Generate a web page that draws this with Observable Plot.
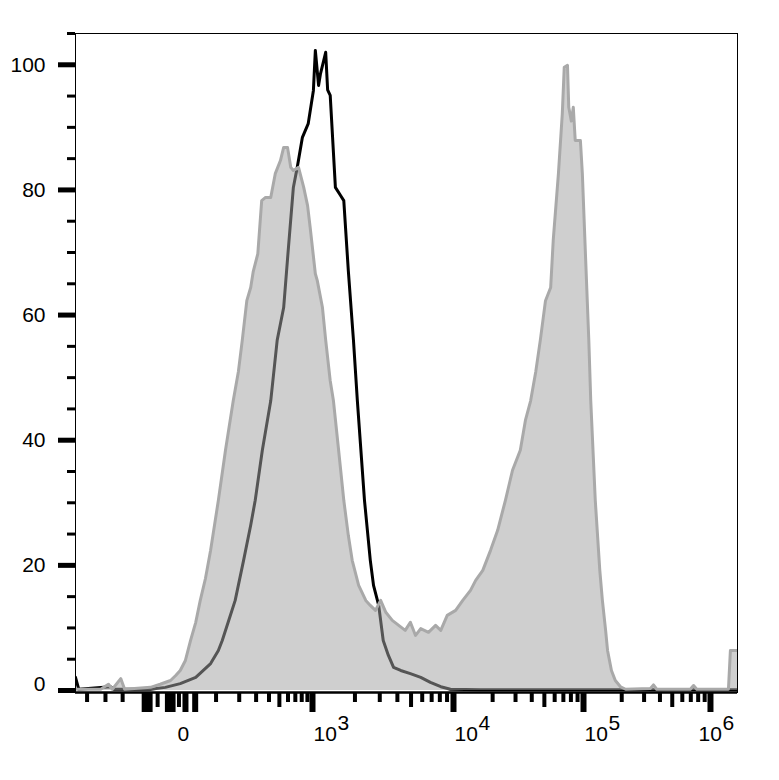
<!DOCTYPE html>
<html><head><meta charset="utf-8">
<script src="https://cdn.jsdelivr.net/npm/d3@7"></script>
<script src="https://cdn.jsdelivr.net/npm/@observablehq/plot@0.6"></script>
<style>body{margin:0;background:#fff;}</style>
</head><body><div id="chart"></div>
<script>
// Histogram bins: channel position (0-1024 display channels) and % of max count
const blackChannel = [0,5,54,59,116,139,162,186,209,221,227,237,247,260,271,278,289,302,312,322,329,337,343,351,360,368,371,376,379,384,387,390,394,402,410,415,422,430,436,447,456,461,469,476,484,492,503,518,534,549,565,580,626,1024];
const blackCount   = [2.1,0.2,0.6,0.2,0.2,0.5,1.1,2.1,4.3,6.4,8,11.2,14.4,20.8,26.4,30.4,38.4,46.3,56,61.2,70.3,80.4,83.6,88.4,90.6,95.9,102.3,96.7,98.6,100.7,102,96,95.1,80.4,79.1,78.3,67.1,55.9,46.3,30.4,20.8,16.8,13.6,8,5.6,3.7,3.2,2.7,2.1,1.3,0.6,0.2,0.1,0.1];

const grayChannel = [0,39,51,57,70,76,116,131,147,155,162,170,178,186,193,201,209,221,232,244,252,258,265,271,275,282,288,294,302,309,317,322,328,333,337,345,353,359,363,371,374,382,387,394,399,407,415,422,428,438,449,456,464,472,480,490,500,510,518,526,534,546,557,565,575,588,599,611,619,630,642,653,665,676,688,696,704,712,719,727,735,739,747,753,756,761,763,767,770,773,781,784,789,794,797,804,811,815,820,823,829,835,843,851,889,894,899,951,956,961,1010,1013,1024];
const grayCount   = [0.2,0.2,1,0.2,1.9,0.2,0.5,1,1.6,2.4,3.2,4.8,8,10.9,14.4,17.9,22.4,30.4,38.4,46.3,51,56,62.3,64.4,67,69.8,78.3,78.8,78.8,82.6,84.7,86.8,86.8,83.6,83.1,83.6,80.4,77.5,74,66.6,65.5,61.2,56,49.5,46.3,38.4,30.4,24.8,20.8,16.8,14.4,13.6,12.8,14.4,12.5,11.2,10.4,9.6,10.9,8.8,9.9,9.3,10.4,9.6,12,12.8,14.4,16,17.6,19.2,22.4,25.6,30.4,35.2,38.4,43.2,46.3,51,56,62.3,64.4,72,82.6,92.2,99.6,99.9,93.2,91,93.2,87.9,87.9,82.6,69.2,56,46.3,30.4,19.2,14.4,9.6,6.4,3.2,1.6,0.6,0.2,0.3,0.9,0.2,0.2,0.8,0.2,0.2,6.4,6.4];

const yMajorTicks = [0,20,40,60,80,100];
const yMinorTicks = [5,10,15,25,30,35,45,50,55,65,70,75,85,90,95,105];
const xLabelValues = [0,1e3,1e4,1e5,1e6];
const xLongTicks  = [-140,-120,-55,-40,0,30,1e3,1e4,1e5,1e6];
const xMidTicks   = [-90,-20,500,5e3,5e4,5e5];
const xShortTicks = [-550,-370,-250,100,200,300,400,600,700,800,900,
  2e3,3e3,4e3,6e3,7e3,8e3,9e3,2e4,3e4,4e4,6e4,7e4,8e4,9e4,2e5,3e5,4e5,6e5,7e5,8e5,9e5];

// instrument display scale (biexponential-like): value -> display channel
function channelOf(v) {
  const zero = 170.1, thousand = 366.6, c = 150;
  const decExp = [3,4,5,6], decCh = [366.6,584.7,785.8,982.2];
  if (Math.abs(v) < 1000) {
    const f = Math.asinh(Math.abs(v)/c)/Math.asinh(1000/c);
    return zero + Math.sign(v)*(thousand - zero)*f;
  }
  const e = Math.log10(v);
  for (let i = 0; i < decExp.length - 1; i++) {
    if (e <= decExp[i+1]) return decCh[i] + (e - decExp[i])*(decCh[i+1]-decCh[i]);
  }
  return decCh[3] + (e - 6)*(decCh[3]-decCh[2]);
}

const blackData = blackChannel.map((ch,i) => ({ch, n: blackCount[i]}));
const grayData = grayChannel.map((ch,i) => ({ch, n: grayCount[i]}));
const yBottom = -0.32;

const chart = Plot.plot({
  width: 779, height: 780,
  marginLeft: 75, marginRight: 42, marginTop: 33, marginBottom: 88,
  style: {fontFamily: '"Liberation Sans", Arial, sans-serif', fontSize: "21px", color: "black", background: "white"},
  x: {domain: [0, 1024], axis: null, label: null},
  y: {domain: [yBottom, 105], axis: null, label: null},
  marks: [
    Plot.lineY(blackData, {x: "ch", y: "n", stroke: "black", strokeWidth: 3, curve: "linear", clip: true}),
    Plot.areaY(grayData, {x: "ch", y: "n", fill: "#a3a3a3", fillOpacity: 0.52, curve: "linear", clip: true}),
    Plot.lineY(grayData, {x: "ch", y: "n", stroke: "#a9a9a9", strokeWidth: 3, curve: "linear", clip: true}),
    Plot.frame({stroke: "black", strokeWidth: 1}),
    Plot.ruleY([yBottom], {stroke: "black", strokeWidth: 2.5}),
    Plot.axisY(yMajorTicks, {tickSize: 17, strokeWidth: 5, tickFormat: () => "", label: null}),
    Plot.axisY(yMajorTicks.filter(v => v > 0), {tickSize: 17, strokeWidth: 0, tickPadding: 13, fontSize: 21, label: null, fill: "black"}),
    Plot.axisY(yMajorTicks.filter(v => v === 0), {tickSize: 17, strokeWidth: 0, tickPadding: 13, fontSize: 21, label: null, fill: "black", dy: -6}),
    Plot.axisY(yMinorTicks, {tickSize: 8, strokeWidth: 3, tickFormat: () => "", label: null}),
    Plot.axisX(xLongTicks.map(channelOf), {tickSize: 20, strokeWidth: 6, tickFormat: () => "", label: null}),
    Plot.axisX(xMidTicks.map(channelOf), {tickSize: 15, strokeWidth: 4, tickFormat: () => "", label: null}),
    Plot.axisX(xShortTicks.map(channelOf), {tickSize: 10, strokeWidth: 4, tickFormat: () => "", label: null}),
    Plot.text(xLabelValues.filter(v => v === 0), {x: channelOf, text: () => "0", frameAnchor: "bottom", dy: 48, dx: -2, fontSize: 21, fill: "black"}),
    Plot.text(xLabelValues.filter(v => v > 0 && v < 1e6), {x: channelOf, text: () => "10", frameAnchor: "bottom", textAnchor: "start", dy: 48, dx: 1, fontSize: 21, fill: "black"}),
    Plot.text(xLabelValues.filter(v => v > 0 && v < 1e6), {x: channelOf, text: d => String(Math.round(Math.log10(d))), frameAnchor: "bottom", textAnchor: "start", dy: 37, dx: 25, fontSize: 21, fill: "black"}),
    Plot.text(xLabelValues.filter(v => v >= 1e6), {x: channelOf, text: () => "10", frameAnchor: "bottom", textAnchor: "start", dy: 48, dx: -12, fontSize: 21, fill: "black"}),
    Plot.text(xLabelValues.filter(v => v >= 1e6), {x: channelOf, text: d => String(Math.round(Math.log10(d))), frameAnchor: "bottom", textAnchor: "start", dy: 37, dx: 12, fontSize: 21, fill: "black"})
  ]
});
document.getElementById("chart").appendChild(chart);
</script>
</body></html>
